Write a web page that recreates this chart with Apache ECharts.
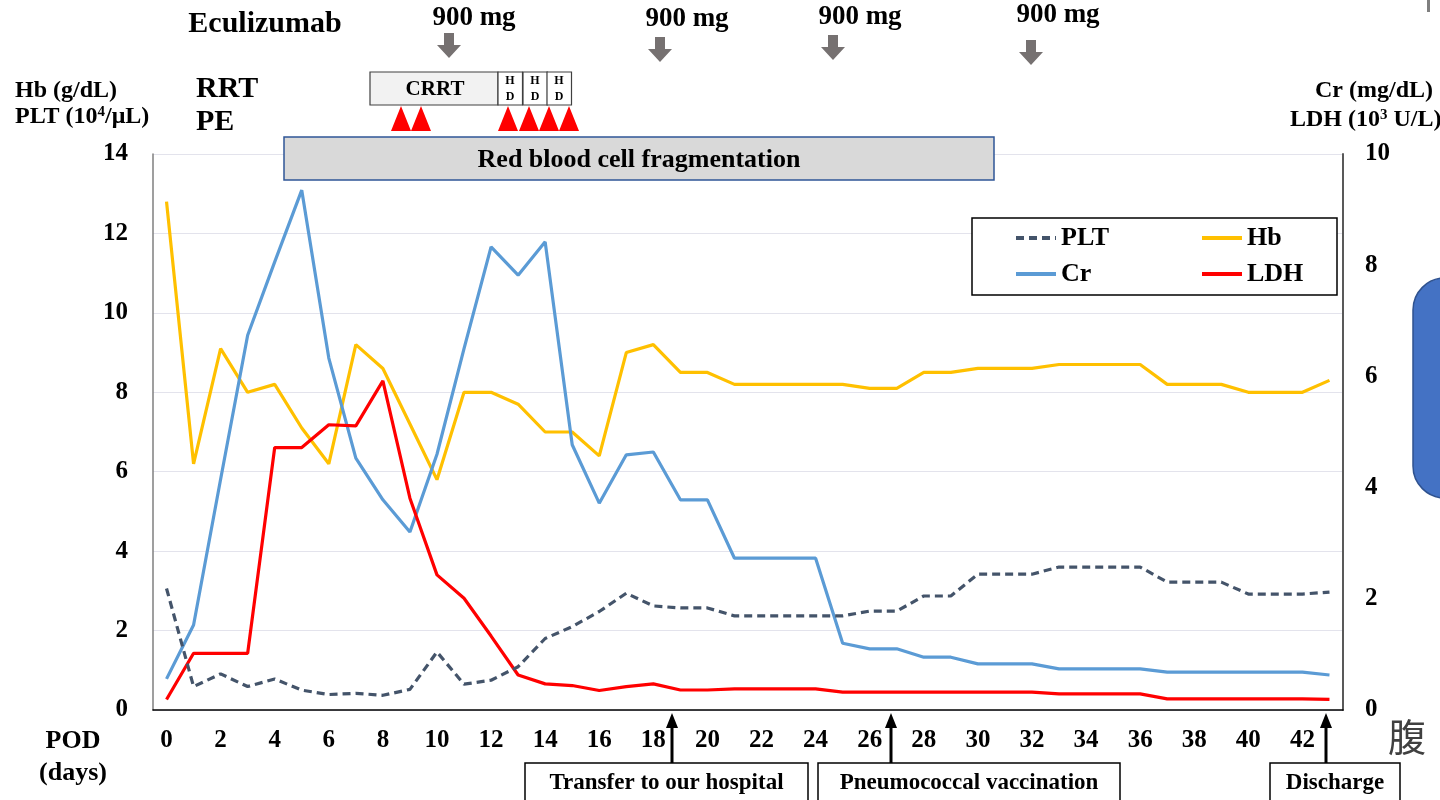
<!DOCTYPE html>
<html>
<head>
<meta charset="utf-8">
<script src="https://cdn.jsdelivr.net/npm/echarts@6/dist/echarts.min.js"></script>
<style>html,body{margin:0;padding:0;background:#fff;}#c{width:1440px;height:800px;}</style>
</head>
<body>
<div id="c"></div>
<script>
// ---- data ----
const days = Array.from({length: 44}, (_, i) => String(i));
const plt = [3.06, 0.59, 0.91, 0.59, 0.78, 0.5, 0.39, 0.42, 0.37, 0.52, 1.46, 0.65, 0.75, 1.09, 1.8, 2.1, 2.48, 2.94,
  2.62, 2.57, 2.57, 2.37, 2.37, 2.37, 2.37, 2.37, 2.49, 2.49, 2.87, 2.87, 3.42, 3.42, 3.42, 3.6, 3.6, 3.6, 3.6,
  3.22, 3.22, 3.22, 2.92, 2.92, 2.92, 2.97];
const hb = [12.8, 6.2, 9.1, 8.0, 8.2, 7.1, 6.2, 9.2, 8.6, 7.2, 5.8, 8.0, 8.0, 7.7, 7.0, 7.0, 6.4, 9.0, 9.2, 8.5, 8.5,
  8.2, 8.2, 8.2, 8.2, 8.2, 8.1, 8.1, 8.5, 8.5, 8.6, 8.6, 8.6, 8.7, 8.7, 8.7, 8.7, 8.2, 8.2, 8.2, 8.0, 8.0, 8.0, 8.3];
const cr = [0.56, 1.53, 4.15, 6.74, 8.06, 9.35, 6.33, 4.53, 3.78, 3.2, 4.6, 6.5, 8.33, 7.82, 8.42, 4.77, 3.72, 4.59,
  4.64, 3.78, 3.78, 2.73, 2.73, 2.73, 2.73, 1.2, 1.1, 1.1, 0.95, 0.95, 0.83, 0.83, 0.83, 0.74, 0.74, 0.74, 0.74,
  0.68, 0.68, 0.68, 0.68, 0.68, 0.68, 0.63];
const ldh = [0.19, 1.02, 1.02, 1.02, 4.72, 4.72, 5.13, 5.11, 5.92, 3.81, 2.43, 2.01, 1.33, 0.63, 0.47, 0.44, 0.35,
  0.42, 0.47, 0.36, 0.36, 0.38, 0.38, 0.38, 0.38, 0.32, 0.32, 0.32, 0.32, 0.32, 0.32, 0.32, 0.32, 0.29, 0.29, 0.29,
  0.29, 0.2, 0.2, 0.2, 0.2, 0.2, 0.2, 0.19];
const leftTicks = {min: 0, max: 14, interval: 2};
const rightTicks = {min: 0, max: 10, interval: 2};

const SERIF = '"Liberation Serif","Times New Roman",serif';
const f = (s) => 'bold ' + s + 'px ' + SERIF;

// ---- annotations (decorations) ----
const g = [];
function txt(x, y, t, size, align, extra) {
  g.push(Object.assign({type: 'text', x: x, y: y, z: 100,
    style: Object.assign({text: t, font: f(size), fill: '#000', align: align || 'left', verticalAlign: 'middle'}, extra || {})}));
}
txt(265, 24, 'Eculizumab', 30, 'center');
txt(196, 89, 'RRT', 30);
txt(196, 122, 'PE', 30);
txt(15, 91, 'Hb (g/dL)', 24);
g.push({type: 'text', x: 15, y: 117, z: 100, style: {text: '{a|PLT (10}{s|4}{a|/μL)}', verticalAlign: 'middle',
  rich: {a: {font: f(24), fill: '#000'}, s: {font: f(15), fill: '#000', verticalAlign: 'top', padding: [0, 0, 8, 0]}}}});
txt(1374, 91, 'Cr (mg/dL)', 24, 'center');
g.push({type: 'text', x: 1290, y: 120, z: 100, style: {text: '{a|LDH (10}{s|3}{a| U/L)}', verticalAlign: 'middle',
  rich: {a: {font: f(24), fill: '#000'}, s: {font: f(15), fill: '#000', verticalAlign: 'top', padding: [0, 0, 8, 0]}}}});
txt(73, 741, 'POD', 26, 'center');
txt(73, 773, '(days)', 26, 'center');

// dose labels and grey arrows
const doses = [[474, 18, 449, 33], [687, 19, 660, 37], [860, 17, 833, 35], [1058, 15, 1031, 40]];
doses.forEach(d => {
  txt(d[0], d[1], '900 mg', 27, 'center');
  const cx = d[2], ty = d[3];
  g.push({type: 'polygon', z: 100, shape: {points: [[cx - 5, ty], [cx + 5, ty], [cx + 5, ty + 12], [cx + 12, ty + 12],
    [cx, ty + 25], [cx - 12, ty + 12], [cx - 5, ty + 12]]}, style: {fill: '#767171'}});
});

// RRT boxes
g.push({type: 'rect', z: 100, shape: {x: 370, y: 72, width: 128, height: 33}, style: {fill: '#f2f2f2', stroke: '#404040', lineWidth: 1.2}});
txt(435, 90, 'CRRT', 21, 'center');
[498, 523, 547].forEach(x => {
  g.push({type: 'rect', z: 100, shape: {x: x, y: 72, width: 24.5, height: 33}, style: {fill: '#fff', stroke: '#404040', lineWidth: 1.2}});
  txt(x + 12, 81, 'H', 12, 'center');
  txt(x + 12, 97, 'D', 12, 'center');
});
// PE triangles
[401, 421, 508, 529, 549, 569].forEach(x => {
  g.push({type: 'polygon', z: 100, shape: {points: [[x, 106], [x + 10, 131], [x - 10, 131]]}, style: {fill: '#ff0000'}});
});
// red blood cell fragmentation
g.push({type: 'rect', z: 100, shape: {x: 284, y: 137, width: 710, height: 43}, style: {fill: '#d9d9d9', stroke: '#2f5597', lineWidth: 1.5}});
txt(639, 160, 'Red blood cell fragmentation', 26, 'center');

// legend box
g.push({type: 'rect', z: 90, shape: {x: 972, y: 218, width: 365, height: 77}, style: {fill: '#fff', stroke: '#000', lineWidth: 1.5}});

// bottom event boxes + arrows
const events = [[525, 283, 'Transfer to our hospital', 672], [818, 302, 'Pneumococcal vaccination', 891], [1270, 130, 'Discharge', 1326]];
events.forEach(e => {
  g.push({type: 'rect', z: 100, shape: {x: e[0], y: 763, width: e[1], height: 50}, style: {fill: '#fff', stroke: '#000', lineWidth: 1.5}});
  txt(e[0] + e[1] / 2, 783, e[2], 23, 'center');
  const ax = e[3];
  g.push({type: 'rect', z: 100, shape: {x: ax - 1.5, y: 726, width: 3, height: 37}, style: {fill: '#000'}});
  g.push({type: 'polygon', z: 100, shape: {points: [[ax, 713], [ax + 6, 728], [ax - 6, 728]]}, style: {fill: '#000'}});
});

// right edge decorations
g.push({type: 'rect', z: 100, shape: {x: 1413, y: 278, width: 70, height: 220, r: 32}, style: {fill: '#4472c4', stroke: '#2f528f', lineWidth: 1.5}});
g.push({type: 'rect', z: 100, shape: {x: 1427, y: 0, width: 3, height: 12}, style: {fill: '#7f7f7f'}});
g.push({type: 'text', x: 1388, y: 737, z: 100, style: {text: '腹', font: '38px "Noto Sans CJK JP"', fill: '#404040', verticalAlign: 'middle'}});

const chart = echarts.init(document.getElementById('c'));
const legendText = {fontFamily: SERIF, fontWeight: 'bold', fontSize: 26, color: '#000', width: 60, lineHeight: 30};
const legendCommon = {left: 1014, padding: 0, itemWidth: 40, itemHeight: 14, itemGap: 79, textStyle: legendText, z: 95,
  itemStyle: {opacity: 0, borderWidth: 0}, lineStyle: {width: 4}};
chart.setOption({
  animation: false,
  backgroundColor: '#fff',
  grid: {left: 153, right: 97, top: 154, bottom: 90},
  legend: [
    Object.assign({data: ['PLT', 'Hb'], top: 223}, legendCommon),
    Object.assign({data: ['Cr', 'LDH'], top: 259}, legendCommon)
  ],
  xAxis: {
    type: 'category', data: days, boundaryGap: true,
    axisLine: {lineStyle: {color: '#000', width: 1.5}},
    axisTick: {interval: 0, length: 8, lineStyle: {color: '#000', width: 1.2}},
    axisLabel: {interval: 1, margin: 18, fontFamily: SERIF, fontWeight: 'bold', fontSize: 25, color: '#000'},
    splitLine: {show: false}
  },
  yAxis: [
    {type: 'value', min: leftTicks.min, max: leftTicks.max, interval: leftTicks.interval,
      axisLine: {show: true, lineStyle: {color: '#7f7f7f', width: 1.5}}, axisTick: {show: false},
      axisLabel: {margin: 25, fontFamily: SERIF, fontWeight: 'bold', fontSize: 25, color: '#000'},
      splitLine: {show: true, lineStyle: {color: '#e3e3ec', width: 1.2}}},
    {type: 'value', min: rightTicks.min, max: rightTicks.max, interval: rightTicks.interval, position: 'right',
      axisLine: {show: true, lineStyle: {color: '#595959', width: 2}}, axisTick: {show: false},
      axisLabel: {margin: 22, fontFamily: SERIF, fontWeight: 'bold', fontSize: 25, color: '#000'},
      splitLine: {show: false}}
  ],
  series: [
    {name: 'Hb', type: 'line', yAxisIndex: 0, data: hb, symbol: 'none', lineStyle: {color: '#ffc000', width: 3.2}, itemStyle: {color: '#ffc000'}, z: 2},
    {name: 'Cr', type: 'line', yAxisIndex: 1, data: cr, symbol: 'none', lineStyle: {color: '#5b9bd5', width: 3.2}, itemStyle: {color: '#5b9bd5'}, z: 3},
    {name: 'LDH', type: 'line', yAxisIndex: 1, data: ldh, symbol: 'none', lineStyle: {color: '#ff0000', width: 3.2}, itemStyle: {color: '#ff0000'}, z: 4},
    {name: 'PLT', type: 'line', yAxisIndex: 0, data: plt, symbol: 'none', lineStyle: {color: '#44546a', width: 3.2, type: [8, 5]}, itemStyle: {color: '#44546a'}, z: 5}
  ],
  graphic: g
});
</script>
</body>
</html>
